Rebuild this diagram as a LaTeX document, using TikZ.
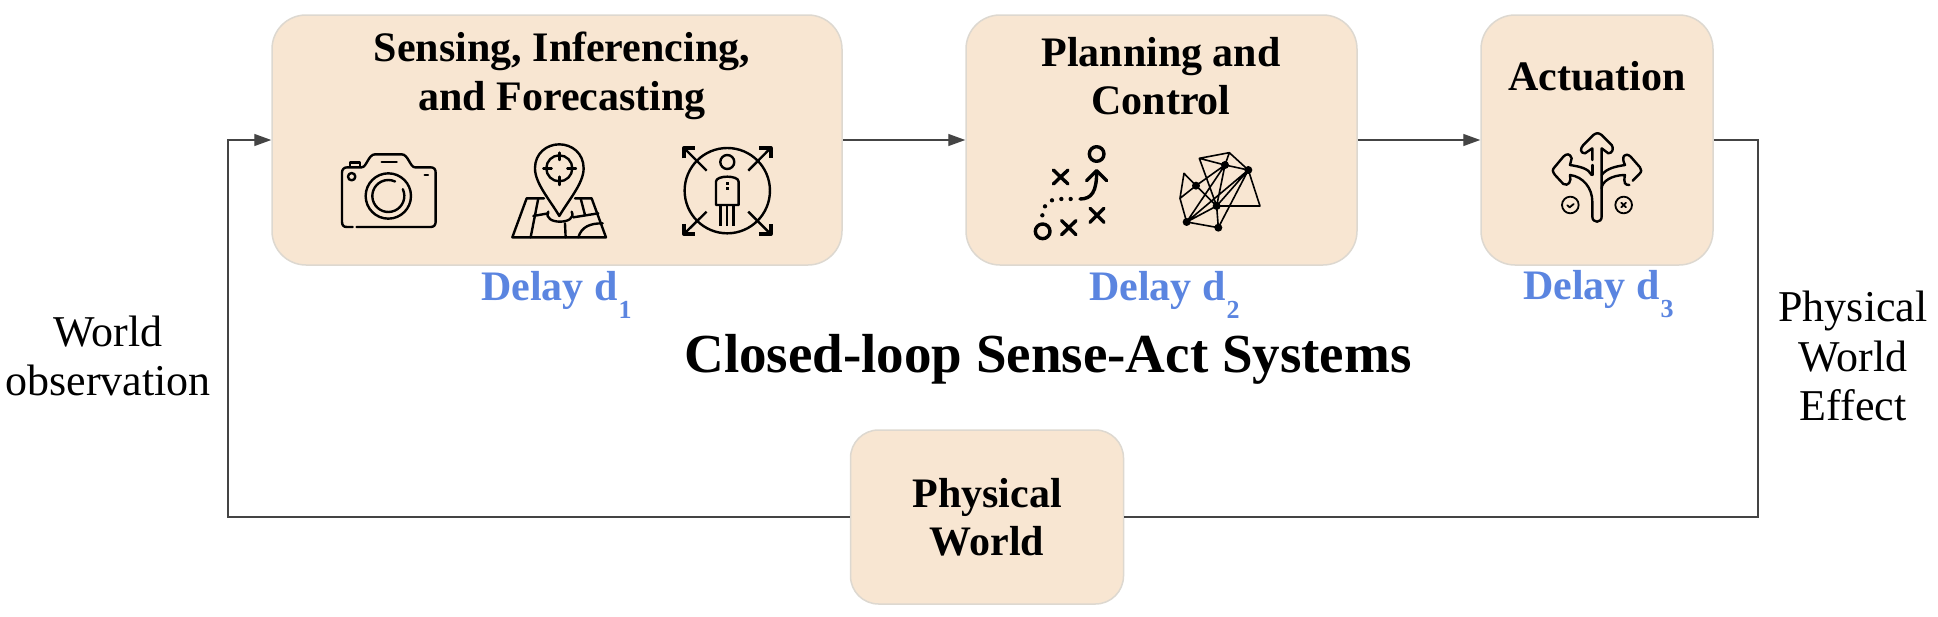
\documentclass[tikz,border=0pt]{standalone}
\usepackage{fontspec}
\setmainfont{Liberation Serif}
\usetikzlibrary{arrows.meta}
\definecolor{boxfill}{HTML}{F8E6D2}
\definecolor{boxline}{HTML}{DDD8D0}
\definecolor{linecol}{HTML}{444444}
\definecolor{delayblue}{HTML}{5B85E0}
\newcommand{\delaysub}[1]{\hspace{1pt}\raisebox{-18pt}{\fontsize{26}{26}\selectfont #1}}
\tikzset{
 x=1pt,y=-1pt,
 stage/.style={draw=boxline,line width=1.5pt,fill=boxfill,rounded corners=34pt,inner sep=0pt},
 flow/.style={draw=linecol,line width=1.4pt},
 flowarrow/.style={flow,-{Triangle[length=17pt,width=12pt]}},
 boxtitle/.style={font=\fontsize{42}{48.5}\selectfont\bfseries,align=center,inner sep=0pt,anchor=center},
 delaylabel/.style={font=\fontsize{42}{44}\selectfont\bfseries,text=delayblue,inner sep=0pt,anchor=base west},
 plain/.style={font=\fontsize{44}{49.5}\selectfont,align=center,inner sep=0pt,anchor=center},
 ic/.style={draw=black,line width=2.4pt,line cap=round,line join=round,fill=none},
 zoomed/.style={x=0.3333pt,y=-0.3333pt},
}
\begin{document}
\begin{tikzpicture}
\useasboundingbox (0,0) rectangle (1938,616);
\node[stage,minimum width=570pt,minimum height=250pt] (sense) at (557,140) {};
\node[stage,minimum width=391pt,minimum height=250pt] (plan) at (1161.5,140) {};
\node[stage,minimum width=232pt,minimum height=250pt] (act) at (1597,140) {};
\node[stage,minimum width=273pt,minimum height=174pt,rounded corners=28pt] (world) at (987,517) {};
\coordinate (lc) at (228,517);
\coordinate (rc) at (1758,517);
\coordinate (rt) at (1758,140);
\coordinate (lt) at (228,140);
\draw[flowarrow] (sense.east) -- (plan.west);
\draw[flowarrow] (plan.east) -- (act.west);
\draw[flow] (act.east) -- (rt) -- (rc) -- (world.east);
\draw[flowarrow] (world.west) -- (lc) -- (lt) -- (sense.west);
\node[boxtitle] (t1) at (562,76) {Sensing, Inferencing,\\and Forecasting};
\node[boxtitle] (t2) at (1161,76) {Planning and\\Control};
\node[boxtitle] (t3) at (1597,76) {Actuation};
\node[boxtitle] (t4) at (987,517) {Physical\\World};
\node[delaylabel] (d1) at (481,300) {Delay d\delaysub{1}};
\node[delaylabel] (d2) at (1089,300) {Delay d\delaysub{2}};
\node[delaylabel] (d3) at (1523,299) {Delay d\delaysub{3}};
\node[inner sep=0pt,font=\fontsize{55}{60}\selectfont\bfseries] (title) at (1048,359) {Closed-loop Sense-Act Systems};
\node[plain] (wo) at (108,356) {World\\observation};
\node[plain] (pe) at (1853,356) {Physical\\World\\Effect};
% camera
\begin{scope}[shift={(320,130)},zoomed]
\draw[ic] (98,291) -- (80,291) .. controls (70,291) and (66,285) .. (66,275) -- (66,128) .. controls (66,118) and (72,112) .. (82,112) -- (125,112) .. controls (140,112) and (145,73) .. (165,73) -- (245,73) .. controls (265,73) and (270,112) .. (285,112) -- (332,112) .. controls (342,112) and (347,118) .. (347,128) -- (347,275) .. controls (347,285) and (342,291) .. (332,291) -- (110,291);
\draw[ic] (205,198) circle[radius=68];
\draw[ic] ([shift={(-25:48)}]205,198) arc[start angle=-25,end angle=295,radius=48];
\draw[ic] (95,140) circle[radius=11];
\draw[ic] (185,96) -- (230,96);
\draw[ic] (314,135) -- (324,135);
\draw[ic] (90,110) -- (90,97) -- (120,97) -- (120,110);
% pin
\draw[ic] (718,258) .. controls (690,210) and (645,160) .. (645,115) .. controls (645,70) and (680,43) .. (718,43) .. controls (756,43) and (791,70) .. (791,115) .. controls (791,160) and (746,210) .. (718,258) -- cycle;
\draw[ic] (718,115) circle[radius=39];
\draw[ic] (718,68) -- (718,90) (718,140) -- (718,165) (670,115) -- (695,115) (742,115) -- (768,115);
\draw[ic] (672,205) -- (620,205) -- (577,322) -- (858,322) -- (815,205) -- (765,205);
\draw[ic] (655,205) -- (632,322) (640,258) -- (685,250);
\draw[ic] (685,245) .. controls (665,285) and (775,285) .. (755,245);
\draw[ic] (735,280) -- (737,322) (782,205) -- (795,255) (760,262) -- (835,250);
\draw[ic] (775,322) .. controls (785,290) and (810,280) .. (848,280);
% person
\draw[ic,line cap=butt] (1222,182) circle[radius=128];
\draw[ic] (1222,96) circle[radius=21];
\draw[ic,line cap=butt] (1188,225) -- (1188,155) .. controls (1188,135) and (1256,135) .. (1256,155) -- (1256,225) -- cycle;
\draw[ic,line cap=butt] (1202,225) -- (1202,288) (1222,225) -- (1222,288) (1241,225) -- (1241,288);
\draw[ic,line cap=butt,line width=3pt] (1222,157) -- (1222,165) (1222,172) -- (1222,180);
\draw[ic,line cap=butt] (1160,122) -- (1092,54) (1285,122) -- (1352,54) (1160,245) -- (1092,312) (1285,245) -- (1352,312);
\draw[ic,line cap=butt,line width=4pt] (1092,85) -- (1092,54) -- (1125,54);
\draw[ic,line cap=butt,line width=4pt] (1318,54) -- (1352,54) -- (1352,85);
\draw[ic,line cap=butt,line width=4pt] (1092,282) -- (1092,312) -- (1125,312);
\draw[ic,line cap=butt,line width=4pt] (1318,312) -- (1352,312) -- (1352,282);
\end{scope}
% play and network
\begin{scope}[shift={(1000,120)},zoomed]
\draw[ic,line width=3.4pt] (290,102) circle[radius=22];
\draw[ic,line width=3.4pt] (128,334) circle[radius=22];
\draw[ic,line width=3.4pt] (160,150) -- (204,192) (204,150) -- (160,192);
\draw[ic,line width=3.4pt] (270,265) -- (312,307) (312,265) -- (270,307);
\draw[ic,line width=3.4pt] (185,302) -- (228,344) (228,302) -- (185,344);
\draw[ic,line width=3.4pt] (240,237) .. controls (275,237) and (290,215) .. (290,155);
\draw[ic,line width=3.4pt] (260,182) -- (290,152) -- (320,182);
\foreach \dx/\dy in {212/237,184/237,156/241,135/259,127/286}
  \fill (\dx,\dy) circle[radius=6.5];
\draw[ic,line width=1.6pt] (598,115) -- (688,98) -- (745,150) -- (780,258) -- (650,258) -- (675,135) -- (598,115) (688,98) -- (675,135) -- (745,150) -- (650,258) -- (655,323) -- (560,306) -- (540,235) -- (552,160) -- (588,197) -- (675,135) -- (560,306) -- (650,258) -- (588,197) -- (540,235) (598,115) -- (650,258) (745,150) -- (655,323) (745,150) -- (560,306);
\foreach \nx/\ny in {675/135,745/150,588/197,650/258,560/306,655/323}
  \fill (\nx,\ny) circle[radius=12];
\end{scope}
% fork
\begin{scope}[shift={(1500,110)},zoomed]
\draw[ic] (277,150) -- (277,115) -- (255,130) .. controls (240,130) and (240,115) .. (250,105) -- (280,75) .. controls (290,68) and (295,68) .. (305,75) -- (335,105) .. controls (342,115) and (338,130) .. (325,130) -- (305,115) -- (305,235);
\draw[ic] (277,165) -- (277,195);
\draw[ic] (275,195) .. controls (265,175) and (240,170) .. (210,165) -- (215,145) .. controls (210,130) and (200,130) .. (190,140) -- (165,170) .. controls (155,180) and (158,185) .. (165,195) -- (190,222) .. controls (205,230) and (215,215) .. (210,195) .. controls (250,200) and (277,235) .. (277,275) -- (277,320) .. controls (277,340) and (305,340) .. (305,320) -- (305,235) .. controls (305,215) and (335,195) .. (375,195) .. controls (370,220) and (375,225) .. (388,225);
\draw[ic] (305,195) .. controls (320,175) and (345,170) .. (375,165) .. controls (362,140) and (375,125) .. (392,140) -- (420,172) .. controls (425,180) and (425,185) .. (418,192) -- (398,212);
\draw[ic,line width=1.8pt] (211,285) circle[radius=25] (371,285) circle[radius=25];
\draw[ic,line width=1.8pt] (202,286) -- (209,292) -- (221,282);
\draw[ic,line width=1.8pt] (364,278) -- (378,292) (378,278) -- (364,292);
\end{scope}
\end{tikzpicture}
\end{document}
